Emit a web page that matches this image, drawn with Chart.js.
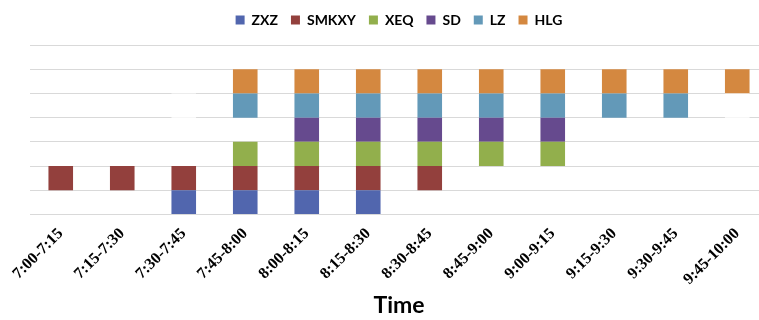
<!DOCTYPE html>
<html>
<head>
<meta charset="utf-8">
<script src="https://cdn.jsdelivr.net/npm/chart.js@4"></script>
<style>
  html, body { margin: 0; padding: 0; background: #fff; overflow: hidden; }
  #wrap { width: 768px; height: 320px; }
</style>
</head>
<body>
<div id="wrap"><canvas id="chart"></canvas></div>
<script>
// time slots on the x axis
var slots = ['7:00-7:15','7:15-7:30','7:30-7:45','7:45-8:00','8:00-8:15','8:15-8:30',
             '8:30-8:45','8:45-9:00','9:00-9:15','9:15-9:30','9:30-9:45','9:45-10:00'];

// 1 = busy in that slot, 0 = free. each series sits on its own row (1..6)
var zxz   = [0,0,1,1,1,1,0,0,0,0,0,0];
var smkxy = [1,1,1,1,1,1,1,0,0,0,0,0];
var xeq   = [0,0,0,1,1,1,1,1,1,0,0,0];
var sd    = [0,0,0,0,1,1,1,1,1,0,0,0];
var lz    = [0,0,0,1,1,1,1,1,1,1,1,0];
var hlg   = [0,0,0,1,1,1,1,1,1,1,1,1];
// blank (white) cells on the LZ row in the original sheet
var lzBlank = [0,0,1,0,0,0,0,0,0,0,0,1];

var seriesNames = ['ZXZ','SMKXY','XEQ','SD','LZ','HLG'];
var seriesVals  = [zxz, smkxy, xeq, sd, lz, hlg];
var seriesCols  = ['#5166AE','#93403D','#92AF4C','#664A8E','#6399B8','#D48840'];

function toRow(arr, row) {
  // floating bar from row-1 to row, or nothing
  return arr.map(function (v) { return v ? [row - 1, row] : null; });
}

var datasets = [];
// white cells first, they are hidden from the legend
datasets.push({
  label: '',
  data: toRow(lzBlank, 5),
  backgroundColor: '#FFFFFF',
  borderWidth: 0
});
for (var i = 0; i < seriesNames.length; i++) {
  datasets.push({
    label: seriesNames[i],
    data: toRow(seriesVals[i], i + 1),
    backgroundColor: seriesCols[i],
    borderWidth: 0
  });
}

var ctx = document.getElementById('chart').getContext('2d');
var mchart = new Chart(ctx, {
  type: 'bar',
  data: { labels: slots, datasets: datasets },
  options: {
    responsive: true,
    maintainAspectRatio: false,
    animation: false,
    grouped: false,
    barPercentage: 0.4,
    categoryPercentage: 1.0,
    layout: { padding: { left: 30, right: 0, top: 0, bottom: 0 } },
    scales: {
      x: {
        grid: { display: false },
        border: { display: false },
        ticks: {
          color: '#000',
          maxRotation: 45,
          minRotation: 45,
          autoSkip: false,
          padding: 2,
          font: { family: 'Liberation Serif', size: 16, weight: 'bold' }
        },
        title: {
          display: true,
          text: 'Time',
          color: '#000',
          padding: { top: 0, bottom: 1 },
          font: { family: 'Lato', size: 23, weight: 'bold' }
        },
        afterFit: function (scale) { scale.height = 105.5; }
      },
      y: {
        min: 0,
        max: 7,
        ticks: { display: false, stepSize: 1 },
        border: { display: false },
        grid: { color: '#D9D9D9', lineWidth: 1, drawTicks: false },
        afterFit: function (scale) { scale.width = 0; }
      }
    },
    plugins: {
      tooltip: { enabled: false },
      legend: {
        display: true,
        position: 'top',
        fullSize: false,
        labels: {
          color: '#000',
          boxWidth: 9,
          boxHeight: 9,
          padding: 13,
          font: { family: 'Lato', size: 14, weight: 'bold' },
          filter: function (item) { return item.text !== ''; }
        }
      }
    }
  }
});

// leave a bit more room under the legend so the plot starts lower
var legendFit = mchart.legend.fit;
mchart.legend.fit = function () {
  legendFit.call(this);
  this.height = 45;
};
mchart.update();
</script>
</body>
</html>
